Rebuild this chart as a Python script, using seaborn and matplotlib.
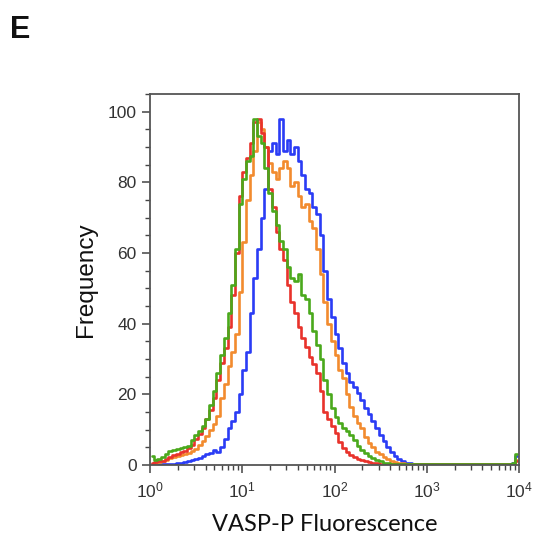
import numpy as np
import pandas as pd
import matplotlib
matplotlib.use("Agg")
import matplotlib.pyplot as plt
import seaborn as sns
from matplotlib.ticker import LogLocator, MultipleLocator, FixedFormatter, FixedLocator

# channel grid (log10 of fluorescence, bin centres)
log_centres = np.round(np.arange(0.02, 4.0, 0.04), 2)

blue = [0.3, 0.3, 0.3, 0.3, 0.3, 0.4, 0.4, 0.5, 0.6, 0.8,
        1.0, 1.3, 1.6, 2.0, 2.5, 3.0, 3.5, 4.3, 3.6, 5.0,
        7.5, 10.5, 12.5, 15, 20, 27, 32, 43, 53, 61,
        70, 78, 89, 91, 88, 98, 89, 92, 88, 90,
        86, 82, 78, 77, 73, 71, 65, 55, 47, 42,
        37, 33, 29, 26, 23.5, 22, 20.5, 18.5, 16, 14.5,
        12.5, 10.5, 8.5, 6.8, 5.0, 3.6, 2.6, 1.8, 1.2, 0.7,
        0.5, 0.4, 0.3, 0.3, 0.3, 0.3, 0.3, 0.3, 0.3, 0.3,
        0.3, 0.3, 0.3, 0.3, 0.3, 0.3, 0.3, 0.3, 0.3, 0.3,
        0.3, 0.3, 0.3, 0.3, 0.3, 0.3, 0.3, 0.4, 0.6, 2.5]

orange = [0.3, 0.5, 0.8, 1.0, 1.5, 2.0, 2.3, 2.6, 2.9, 3.2,
          3.5, 4.0, 4.6, 5.6, 6.8, 8.3, 9.8, 11.5, 14, 19,
          23, 28, 32, 37, 49, 63, 75, 82, 89, 97,
          95, 90, 85.5, 83, 81, 84, 86, 84, 79, 80,
          76, 73, 74, 69, 67, 61, 54, 46, 40, 35,
          31, 27, 24.5, 20, 16.5, 14, 12, 10.5, 8, 6.3,
          5, 3.8, 3.0, 2.2, 1.6, 1.1, 0.8, 0.6, 0.5, 0.4,
          0.3, 0.3, 0.3, 0.3, 0.3, 0.3, 0.3, 0.3, 0.3, 0.3,
          0.3, 0.3, 0.3, 0.3, 0.3, 0.3, 0.3, 0.3, 0.3, 0.3,
          0.3, 0.3, 0.3, 0.3, 0.3, 0.3, 0.3, 0.3, 0.4, 1.5]

red = [0.5, 0.8, 1.0, 1.2, 1.8, 2.4, 2.8, 3.2, 3.6, 4.0,
       4.8, 5.8, 7.5, 8.8, 10.5, 13, 15.5, 19, 24, 29,
       33, 39, 48, 60, 76, 83, 87, 91, 97, 98,
       94, 90, 78, 73, 66, 61, 58, 51, 46, 43,
       39, 36, 33.5, 30.5, 28.5, 26, 21, 15, 13, 11,
       9, 6.5, 4.8, 3.6, 2.8, 2.3, 1.8, 1.4, 1.1, 0.9,
       0.7, 0.5, 0.4, 0.3, 0.3, 0.3, 0.3, 0.3, 0.3, 0.3,
       0.3, 0.3, 0.3, 0.3, 0.3, 0.3, 0.3, 0.3, 0.3, 0.3,
       0.3, 0.3, 0.3, 0.3, 0.3, 0.3, 0.3, 0.3, 0.3, 0.3,
       0.3, 0.3, 0.3, 0.3, 0.3, 0.3, 0.3, 0.3, 0.4, 1.0]

green = [2.5, 1.5, 1.8, 2.2, 3.0, 4.0, 4.2, 4.4, 4.7, 5.0,
         5.5, 7.0, 8.5, 9.6, 11, 13, 17, 21, 26, 31,
         36, 43, 51, 61, 74, 81, 86, 87.5, 98, 93,
         91, 84, 77, 72, 68, 63.5, 61, 56, 53, 52,
         54, 48, 47, 43, 38, 34, 30, 24, 20, 16,
         13.5, 12, 10.5, 9.6, 8.5, 7, 5.5, 4.2, 3.3, 2.6,
         1.9, 1.4, 1.0, 0.7, 0.5, 0.4, 0.3, 0.3, 0.3, 0.3,
         0.3, 0.3, 0.3, 0.3, 0.3, 0.3, 0.3, 0.3, 0.3, 0.3,
         0.3, 0.3, 0.3, 0.3, 0.3, 0.3, 0.3, 0.3, 0.3, 0.3,
         0.3, 0.3, 0.3, 0.3, 0.3, 0.3, 0.3, 0.3, 0.5, 3.0]

samples = ["blue", "orange", "red", "green"]
colors = {"blue": "#2a3cf5", "orange": "#f28b2e", "red": "#e8322b", "green": "#4aa91c"}

x_ticks = [1, 10, 100, 1000, 10000]
x_tick_labels = [r"$\mathregular{10^{0}}$", r"$\mathregular{10^{1}}$", r"$\mathregular{10^{2}}$",
                 r"$\mathregular{10^{3}}$", r"$\mathregular{10^{4}}$"]
y_ticks = [0, 20, 40, 60, 80, 100]

frames = []
for name, vals in zip(samples, [blue, orange, red, green]):
    frames.append(pd.DataFrame({"fluor": 10 ** log_centres, "freq": vals, "sample": name}))
df = pd.concat(frames, ignore_index=True)

sns.set_style("white")
plt.rcParams["font.family"] = ["Liberation Sans", "DejaVu Sans"]
plt.rcParams["mathtext.fontset"] = "custom"
plt.rcParams["mathtext.rm"] = "Liberation Sans"

fig = plt.figure(figsize=(5.33, 5.52), dpi=100)
ax = fig.add_axes([150 / 533, 1 - 465 / 552, (519 - 150) / 533, (465 - 94) / 552])

sns.lineplot(data=df, x="fluor", y="freq", hue="sample", hue_order=samples,
             palette=colors, estimator=None, drawstyle="steps-mid",
             linewidth=1.9, legend=False, ax=ax)

ax.set_xscale("log")
ax.set_xlim(1, 10000)
ax.set_ylim(0, 105)

ax.xaxis.set_major_locator(FixedLocator(x_ticks))
ax.xaxis.set_major_formatter(FixedFormatter(x_tick_labels))
ax.xaxis.set_minor_locator(LogLocator(base=10, subs=np.arange(2, 10)))
ax.xaxis.set_minor_formatter(matplotlib.ticker.NullFormatter())
ax.yaxis.set_major_locator(FixedLocator(y_ticks))
ax.yaxis.set_minor_locator(MultipleLocator(5))

for s in ax.spines.values():
    s.set_color("#555555")
    s.set_linewidth(1.3)

ax.tick_params(axis="both", which="major", direction="out", length=6, width=1.1,
               color="#444444", labelsize=12.5, labelcolor="#333333", bottom=True, left=True)
ax.tick_params(axis="both", which="minor", direction="out", length=3.5, width=1.0,
               color="#444444", bottom=True, left=True)
ax.tick_params(axis="x", which="major", pad=5)

ax.set_xlabel("VASP-P Fluorescence", fontsize=17, family=["Lato", "DejaVu Sans"],
              color="#111111")
ax.xaxis.set_label_coords((325 - 150) / 369, -(514 - 465) / 371)
ax.set_ylabel("Frequency", fontsize=17.5, color="#111111")
ax.yaxis.set_label_coords(-(150 - 97) / 369, (465 - 280) / 371)

fig.text(10 / 533, 1 - 38 / 552, "E", fontsize=22, fontweight="bold", color="#111111")

fig.savefig("out.png", dpi=100)
